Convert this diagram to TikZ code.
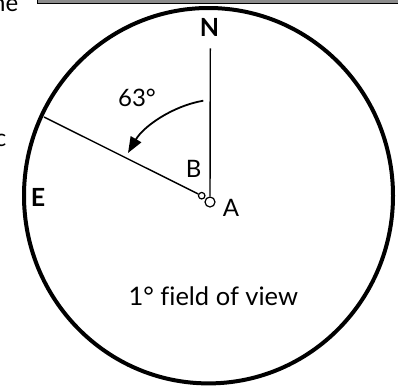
\documentclass[tikz,border=0pt]{standalone}
\usepackage{fontspec}
\setmainfont{Lato}[Ligatures=NoCommon]
\usetikzlibrary{arrows.meta}
\begin{document}
\begin{tikzpicture}[x=1pt,y=-1pt,
  lbl/.style={anchor=base,inner sep=0pt,font=\fontsize{24}{28}\selectfont},
  dirlbl/.style={anchor=base,inner sep=0pt,font=\fontsize{25}{29}\selectfont\bfseries},
  thinline/.style={line width=1.4pt},
  mark circle/.style={circle,draw,line width=1.2pt,inner sep=0pt,fill=white}]
\useasboundingbox (0,0) rectangle (398,389);
% partial elements of surrounding figure
\draw[line width=0.8pt, fill=black!45] (37,-3) rectangle (402,3);
\node[lbl,anchor=base east] (ne) at (18.5,11) {ne};
\node[lbl,anchor=base east] (cc) at (6.5,146) {c};
% field of view
\draw[line width=4pt] (208.5,195.7) ellipse [x radius=184.5, y radius=187.7];
% points
\node[mark circle,minimum size=10pt] (pa) at (210,202) {};
\node[mark circle,minimum size=6.5pt] (pb) at (201.7,195.7) {};
\coordinate (ntop) at (210.3,48.3);
\coordinate (eend) at (44,117);
\draw[thinline] (ntop) -- (pa);
\draw[thinline] (eend) -- (pb);
% angle arrow
\coordinate (arcS) at (203.3,100.7);
\coordinate (arcT) at (128,153);
\draw[line width=1.8pt,-{Triangle[length=16pt,width=12pt]}] (arcS) .. controls (172.8,105.9) and (143.6,126.2) .. (arcT);
% labels
\node[dirlbl] (N) at (209.6,36.7) {N};
\node[dirlbl] (E) at (38,206.5) {E};
\node[lbl] (ang) at (137,106.7) {63°};
\node[lbl] (B) at (193.7,177.3) {B};
\node[lbl] (A) at (231,216) {A};
\node[lbl,font=\fontsize{25.5}{30}\selectfont] (fov) at (213.3,305.7) {1° field of view};
\end{tikzpicture}
\end{document}
